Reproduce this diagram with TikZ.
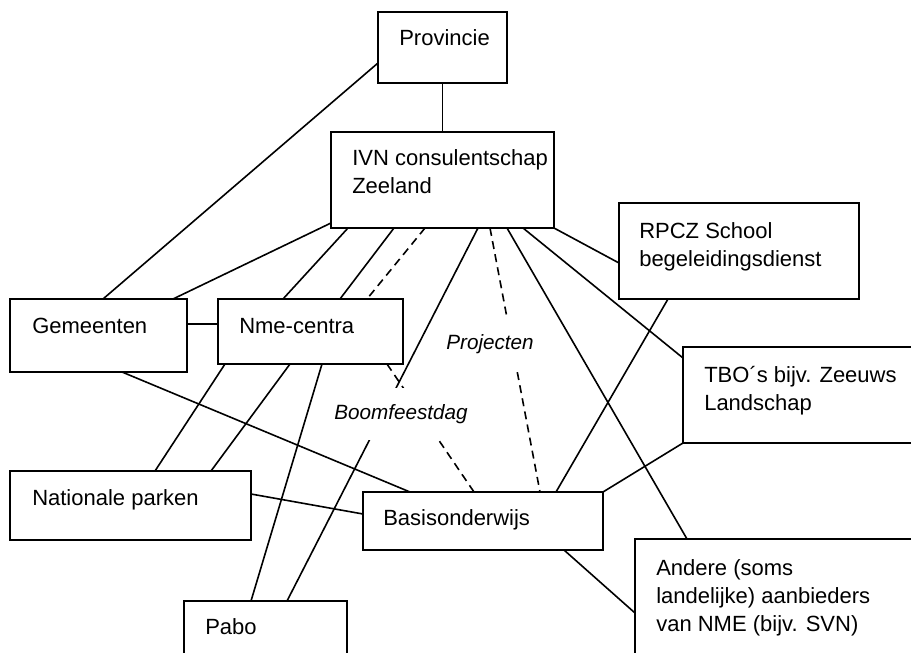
\documentclass[tikz,border=0pt]{standalone}
\usepackage{fontspec}
\setmainfont{Liberation Sans}
\usetikzlibrary{calc}
\pgfdeclarelayer{bg}
\pgfsetlayers{bg,main}
\begin{document}
\begin{tikzpicture}[x=0.75pt,y=-0.75pt,
  box/.style={draw=black, line width=1.3pt, fill=white, inner sep=0pt, outer sep=0pt},
  txt/.style={inner sep=0pt, anchor=north west, align=left, font=\fontsize{16.5}{21}\selectfont},
  lab/.style={fill=white, inner xsep=2pt, inner ysep=0pt, font=\itshape\fontsize{15.5}{19}\selectfont},
  conn/.style={line width=1.2pt},
  dconn/.style={line width=1.2pt, dash pattern=on 6pt off 4pt}]
\useasboundingbox (0,0) rectangle (911,653);
\clip (0,0) rectangle (911,653);
% boxes
\node[box, minimum width=96.75pt, minimum height=53.25pt] (prov) at (442.5,47.5) {};
\node[box, minimum width=167.25pt, minimum height=72pt] (ivn) at (442.5,180) {};
\node[box, minimum width=180pt, minimum height=72pt] (rpcz) at (739,251) {};
\node[box, minimum width=192.75pt, minimum height=72pt] (tbo) at (811.5,395) {};
\node[box, minimum width=132.75pt, minimum height=54.75pt] (gem) at (98.5,335.5) {};
\node[box, minimum width=138.75pt, minimum height=48.75pt] (nme) at (310.5,331.5) {};
\node[box, minimum width=180.75pt, minimum height=51.75pt] (nat) at (130.5,505.5) {};
\node[box, minimum width=180pt, minimum height=43.5pt] (basis) at (483,521) {};
\node[box, minimum width=122.25pt, minimum height=66.75pt] (pabo) at (265.5,645.5) {};
\node[box, minimum width=228.75pt, minimum height=113.25pt] (andere) at (787.5,614.5) {};
% texts
\node[txt] (provT) at ($(prov.north west)+(21,17)$) {Provincie};
\node[txt] (ivnT) at ($(ivn.north west)+(21,17)$) {IVN consulentschap\\Zeeland};
\node[txt] (rpczT) at ($(rpcz.north west)+(20,19)$) {RPCZ School\\begeleidingsdienst};
\node[txt] (tboT) at ($(tbo.north west)+(21,19)$) {TBO´s bijv. Zeeuws\\Landschap};
\node[txt] (gemT) at ($(gem.north west)+(22,19)$) {Gemeenten};
\node[txt] (nmeT) at ($(nme.north west)+(21,19)$) {Nme-centra};
\node[txt] (natT) at ($(nat.north west)+(22,18)$) {Nationale parken};
\node[txt] (basisT) at ($(basis.north west)+(20,17)$) {Basisonderwijs};
\node[txt] (paboT) at ($(pabo.north west)+(21,17)$) {Pabo};
\node[txt] (andereT) at ($(andere.north west)+(21,20)$) {Andere (soms\\landelijke) aanbieders\\van NME (bijv. SVN)};
% labels
\node[lab, minimum height=39pt] (boom) at (401,414) {Boomfeestdag};
\node[lab, minimum height=41.25pt] (proj) at (490,344.5) {Projecten};
% connectors
\begin{pgfonlayer}{bg}
\draw[conn] (prov.south) -- (ivn.north);
\draw[conn] ($(prov.south west)+(0,-20)$) -- ($(gem.north west)+(93,0)$);
\draw[conn] ($(ivn.south west)+(0,-5)$) -- ($(gem.north west)+(163,0)$);
\draw[conn] ($(ivn.south west)+(17,0)$) -- ($(nme.north west)+(65,0)$);
\draw[conn] ($(ivn.south west)+(63,0)$) -- ($(nme.north west)+(122,0)$);
\draw[conn] ($(ivn.south west)+(147,0)$) -- ($(pabo.north west)+(103,0)$);
\draw[conn] ($(ivn.south west)+(176,0)$) -- ($(andere.north west)+(52,0)$);
\draw[conn] ($(ivn.south west)+(192,0)$) -- ($(tbo.north west)+(0,11)$);
\draw[conn] (ivn.south east) -- ($(rpcz.north west)+(0,60)$);
\draw[conn] ($(rpcz.south west)+(49,0)$) -- ($(basis.north west)+(193,0)$);
\draw[conn] (tbo.south west) -- (basis.north east);
\draw[conn] ($(basis.south west)+(201,0)$) -- ($(andere.north west)+(0,74)$);
\draw[conn] ($(gem.north east)+(0,25)$) -- ($(nme.north west)+(0,25)$);
\draw[conn] ($(gem.south west)+(112,0)$) -- ($(basis.north west)+(47,0)$);
\draw[conn] ($(nme.south west)+(7,0)$) -- ($(nat.north west)+(145,0)$);
\draw[conn] ($(nme.south west)+(72,0)$) -- ($(nat.north west)+(201,0)$);
\draw[conn] ($(nme.south west)+(104,0)$) -- ($(pabo.north west)+(67,0)$);
\draw[conn] ($(nat.north east)+(0,23)$) -- ($(basis.north west)+(0,22)$);
\draw[dconn] ($(ivn.south west)+(94,0)$) -- ($(nme.north west)+(149,0)$);
\draw[dconn] ($(nme.south west)+(169,0)$) -- ($(basis.north west)+(111,0)$);
\draw[dconn] ($(ivn.south west)+(159,0)$) -- ($(basis.north west)+(177,0)$);
\end{pgfonlayer}
\end{tikzpicture}
\end{document}
